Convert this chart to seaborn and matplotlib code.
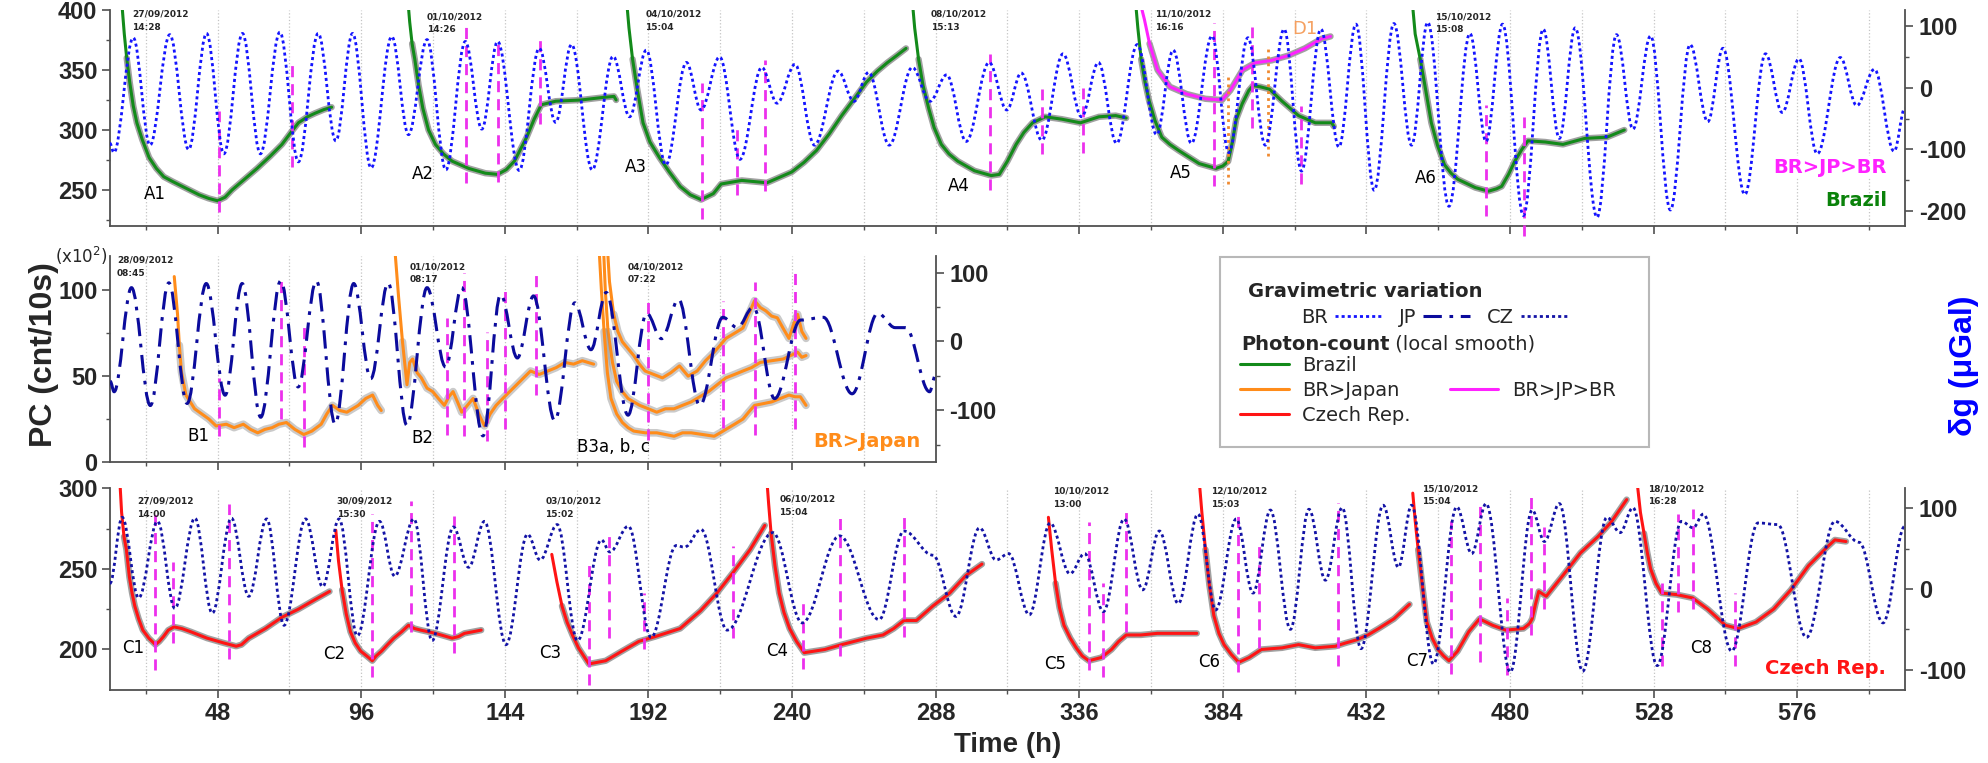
import matplotlib
matplotlib.use("Agg")
import matplotlib.pyplot as plt
from matplotlib.path import Path
from matplotlib.patches import PathPatch, Rectangle
from matplotlib.lines import Line2D
from matplotlib.text import Annotation
from matplotlib import font_manager
import seaborn as sns

# ---------------- gravimetric variation (dg, uGal), turning points
br_t = [12, 13.3, 19.8, 25.4, 32, 38.3, 44.3, 50.1, 56.3, 62.3, 68.8, 75, 81.6, 87.5,
        93.1, 99.3, 106.2, 111.8, 118, 124.3, 130.8, 136.3, 141.6, 148.8, 155.5, 161,
        166.3, 173.2, 180.2, 185.7, 191.3, 197.8, 204.7, 209.6, 215.8, 222.6, 229.9,
        235, 241, 247.5, 255.4, 260.7, 265.6, 272.5, 280.2, 286.1, 291.7, 298.2, 305.9,
        311.8, 316.6, 323.5, 330.6, 336.8, 342.4, 348.5, 355.4, 361.9, 367.4, 373.5,
        380.4, 386, 392.4, 398.2, 404.5, 410.3, 416.8, 422.8, 428.5, 434.6, 441.2, 447.1,
        452.5, 459.6, 466.6, 472, 477.5, 484.5, 491.1, 496.5, 501.8, 509.1, 515.6, 521.1,
        527, 533.6, 540.2, 546.1, 551.2, 558.5, 565.4, 571, 576.6, 582.7, 590.4, 595.9,
        601.8, 608.4, 612]
br_g = [-90, -105, 81, -93, 86, -100, 88, -107, 88, -107, 90, -120, 88, -86,
        88, -130, 83, -76, 78, -133, 75, -67, 75, -134, 64, -56,
        70, -133, 51, -47, 61, -125, 41, -36, 50, -116, 33,
        -25, 38, -93, 27, -22, 25, -93, 33, -22, 21, -87, 41,
        -36, 24, -85, 55, -47, 41, -90, 70, -76, 61, -90,
        84, -105, 81, -93, 95, -135, 95, -96, 103, -166, 104, -93,
        106, -192, 88, -87, 103, -207, 95, -82, 97, -210, 86, -67,
        84, -198, 70, -55, 64, -173, 55, -40, 47, -107, 49, -29,
        30, -103, -33]

jp_t = [12.1, 13.4, 19.2, 25.5, 31.7, 37.8, 44.2, 50.5, 56.2, 62.4, 69.1, 74.9, 81,
        87.3, 93.5, 99.2, 105, 111.3, 118, 124.2, 129.6, 136.7, 142.6, 148.2, 153.6,
        160.7, 167.4, 172.8, 177.9, 185.2, 191.4, 196.4, 202.1, 209.2, 216.9, 221.7,
        227.1, 234.2, 242.9, 250.5, 260.1, 268.7, 274.5, 278, 286, 288]
jp_g = [-58, -73, 78, -93, 85, -90, 84, -78, 84, -110, 88, -66, 88,
        -120, 84, -54, 85, -122, 78, -37, 78, -137, 68, -24, 66,
        -115, 56, -12, 71, -107, 41, 4, 61, -93, 35, 20,
        50, -83, 31, 35, -76, 41, 20, 20, -73, -49]

cz_t = [12, 16.1, 21.6, 27.9, 33.7, 40.4, 46.2, 52.6, 58.4, 64.4, 70.2, 77.4, 83.1,
        88.6, 94.7, 102.1, 107.2, 113.6, 119.7, 126.8, 131.9, 137.2, 144.4, 151.6,
        155.8, 161.5, 168.3, 176.3, 179.1, 185.3, 192.9, 201.3, 204.1, 209.6, 218.3,
        233.6, 243.4, 255.9, 269.1, 277.4, 287.1, 294.8, 302.7, 308.2, 312.4, 319.3,
        326.3, 332.9, 337.8, 344.1, 351, 357.2, 362.8, 369.1, 375.7, 381.6, 388.5,
        394.1, 399.9, 406.6, 412.8, 418.3, 423.9, 430.2, 437.6, 442.7, 447.1, 454.4,
        462.2, 467.2, 472, 480.1, 487.4, 491.5, 496.5, 504.3, 512.4, 516.8, 521.1,
        529.2, 537.3, 541.2, 544.6, 554.1, 562.9, 569.5, 579.1, 588.6, 596.7, 604.7, 612]
cz_g = [7, 89, -11, 84, -24, 88, -30, 88, -9, 87, -45, 87, 3,
        87, -58, 84, 16, 87, -64, 77, 27, 84, -69, 68,
        36, 80, -64, 61, 46, 78, -60, 54, 52, 74, -51,
        70, -42, 66, -38, 72, 42, -34, 76, 36, 44, -32,
        82, 19, 44, -28, 87, -1, 72, -18, 93, -26, 87,
        -5, 98, -50, 99, 11, 101, -74, 104, 27, 104, -93,
        102, 44, 106, -103, 98, 59, 106, -102, 89, 70, 101,
        -95, 84, 76, 93, -77, 82, 80, -60, 84, 58, -42, 78]

# ---------------- photon count, Brazil (cnt/10s)
a1_t = [16, 16.8, 17.6, 18.6, 19.8, 21, 22.8, 25.1, 27.5, 30, 33, 36.2, 41.8, 45, 48,
        50.5, 52.8, 57, 61.2, 65.5, 69.5, 72.5, 75, 78, 80.6, 83.5, 86.1]
a1_pc = [405, 380, 360, 340, 320, 306, 292, 277, 268, 261, 257, 253, 246, 243, 241,
         244, 250, 259, 268, 278, 288, 298, 306, 311, 314, 317, 319]
a2_t = [111.7, 112.2, 113, 113.9, 115.2, 116.6, 118.5, 120.8, 123.5, 126.4, 131.9, 137.5,
        141.6, 144.5, 147.2, 151.3, 153.8, 156.2, 161, 169.4, 176.3, 180.5, 181.2]
a2_pc = [405, 390, 372, 359, 337, 318, 300, 288, 280, 274, 268, 264,
         263, 267, 274, 294, 309, 321, 324, 325, 327, 328, 325]
a3_t = [184.8, 185.5, 186.7, 188.2, 190.2, 192.5, 195.7, 199, 202.6, 206, 209.6, 213.7,
        216.3, 223.2, 231.6, 239.9, 244, 248.2, 252.5, 256.6, 260.8, 264.9, 268.5,
        271.8, 275, 278.1]
a3_pc = [405, 385, 359, 335, 306, 290, 277, 265, 253, 246, 242, 247,
         255, 258, 256, 265, 273, 283, 297, 312, 326, 340, 349,
         356, 362, 368]
a4_t = [280.3, 281, 282.3, 283.8, 285.7, 287.5, 289.9, 292.5, 295.4, 301, 306.6, 309.3,
        312, 314.9, 317.5, 320.4, 324.6, 330.2, 336.4, 342.6, 348.2, 351.7]
a4_pc = [405, 385, 359, 337, 318, 302, 288, 280, 274, 266, 262, 263,
         274, 288, 298, 306, 311, 309, 306, 311, 312, 310]
a5_t = [354.9, 355.6, 356.7, 358, 359.4, 361.3, 363.6, 366.3, 369.2, 376.1, 381.7, 384,
        385.8, 387.2, 388.5, 390.5, 392.7, 394.1, 396.5, 399.6, 403.8, 409.3, 414.9,
        420.4, 421.1]
a5_pc = [405, 385, 359, 340, 324, 308, 294, 288, 283, 272, 268, 270,
         274, 290, 309, 322, 333, 337, 336, 334, 324, 312, 306,
         306, 303]
a6_t = [447.4, 448.3, 450, 451.7, 453.7, 455.8, 458.1, 460.3, 462.5, 468.4, 472.8, 475.5,
        477.2, 479.5, 481.6, 484, 486, 491.8, 497.7, 505, 512.4, 518.2]
a6_pc = [405, 380, 359, 335, 306, 287, 271, 264, 259, 252, 249, 251,
         253, 263, 274, 284, 291, 290, 288, 293, 294, 300]
d1_t = [357, 357.8, 359.5, 362.2, 366.3, 371.9, 378.2, 383.7, 386.5, 390.6, 394.8,
        400.3, 405.9, 411.4, 417, 420]
d1_pc = [400, 392, 372, 350, 336, 330, 326, 325, 333, 350, 356,
         358, 362, 368, 376, 378]

# ---------------- photon count, BR>Japan (x10^2 cnt/10s)
b1_t = [33.5, 34.6, 35.2, 35.9, 37.4, 40.3, 45.1, 47.5, 50.9, 53.5, 56.6, 59, 61.4,
        63.8, 66.2, 68.5, 71, 73.8, 76.8, 79.5, 82.6, 84.5, 86.4, 88.8, 91.2, 95,
        97.5, 99.8, 101.5, 102.7]
b1_pc = [108, 86, 68, 52.5, 39, 31, 25, 21, 22, 20, 22, 19, 17,
         19, 20, 22, 23, 19, 16, 18, 22, 28, 33, 30, 29, 33,
         37, 39, 33, 30]
b2_t = [107.2, 108.5, 109.8, 111.3, 112.2, 113.2, 114.7, 116.1, 118, 119.9, 121.8, 123.8,
        125.3, 126.7, 128.2, 129.6, 131.5, 133.4, 135.3, 137.2, 139.1, 141.1, 143.9,
        146.8, 149.7, 152.6, 155.5, 158.4, 161.2, 164.1, 167, 169.9, 171.8, 173.7]
b2_pc = [125, 96, 70, 45, 58, 60, 52, 49, 43, 41, 37, 33,
         38, 41, 35, 29, 33, 37, 28, 21, 28, 33, 38,
         43, 48, 53, 51, 53, 55, 58, 57, 59, 58, 57]
b3a_t = [178.3, 179, 180.4, 181.8, 183.3, 185.2, 187.1, 189, 190.9, 193.8, 196.7, 199.5,
         202.4, 205.3, 208.3, 211.1, 214, 216, 217.9, 220.8, 223.6, 225.5, 227.5, 229.4,
         231.3, 233.2, 235.1, 237, 239, 240.5, 241.9, 243.3, 244.7]
b3a_pc = [125, 105, 86, 76, 70, 66, 62, 57, 53, 51, 49, 52,
          56, 50, 53, 59, 64, 68, 72, 75, 78, 86, 94, 90,
          88, 85, 84, 78, 72, 80, 86, 76, 72]
b3b_t = [177, 177.6, 178.5, 180, 181.4, 183.3, 185.2, 187.1, 189.1, 192, 194.8, 197.7,
         200.6, 203.4, 206.3, 209.2, 212.1, 215, 217.9, 220.8, 223.6, 226.5, 229.4,
         233.2, 237.1, 239.5, 241.9, 243.3, 244.7]
b3b_pc = [125, 100, 76, 58, 47, 41, 37, 35, 33, 31, 29, 31,
          31, 33, 35, 38, 41, 45, 49, 51, 53, 55, 58,
          59, 60, 62, 64, 61, 62]
b3c_t = [175.5, 176.3, 177.2, 178.3, 179.5, 181.4, 183.3, 185.2, 187.1, 191, 194.8, 197.7,
         200.6, 203.4, 206.3, 210.2, 214, 216, 217.9, 220.8, 223.6, 225.5, 227.5, 230.4,
         233.2, 236.1, 239, 241, 242.8, 244.7]
b3c_pc = [125, 100, 76, 52, 37, 28, 23, 20, 18, 17, 17, 16,
          15, 17, 17, 16, 15, 17, 19, 22, 25, 29, 33, 34,
          35, 37, 39, 38, 38, 33]

# ---------------- photon count, Czech Rep. (cnt/10s)
c1_t = [15.3, 15.9, 16.7, 17.5, 18.5, 19.4, 20.3, 21.6, 23, 25, 27.2, 28.5, 29.9, 31.5,
        33.4, 36, 39, 44.5, 50.1, 54.2, 56, 58.4, 64, 69.5, 75, 80.6, 85.4]
c1_pc = [305, 285, 270, 262, 245, 235, 227, 219, 212, 207, 203, 205, 208, 212,
         214, 213, 211, 207, 204, 202, 203, 207, 213, 220, 225, 231, 236]
c2_t = [87.5, 88.4, 89.6, 91, 92.4, 94, 95.8, 97.8, 99.7, 101, 102.8, 104.8, 106.9,
        109.5, 111.8, 113.8, 115.9, 120.8, 126.4, 128.5, 130.5, 136.1]
c2_pc = [274, 255, 237, 222, 211, 204, 199, 196, 193, 196, 199, 203, 207,
         211, 215, 213, 212, 210, 207, 208, 210, 212]
c3_t = [159.7, 161.4, 163.1, 164.8, 166.6, 168.6, 170.7, 172.1, 174.9, 177.7, 183.2,
        188.8, 194.3, 202.6, 209.4, 214.9, 220.4, 226, 230.9]
c3_pc = [259, 242, 227, 217, 209, 201, 195, 191, 192, 193, 199,
         205, 208, 213, 224, 235, 248, 262, 277]
c4_t = [231.6, 232.2, 233, 234.3, 235.7, 237.3, 239.2, 241.5, 244.1, 251, 256.6, 264.9,
        270.4, 274, 277.4, 281.6, 287.1, 292.7, 298.2, 303.5]
c4_pc = [305, 290, 272, 252, 235, 223, 213, 205, 198, 200, 203, 207,
         209, 213, 218, 218, 227, 235, 246, 253]
c5_t = [325.7, 326.8, 328.1, 329.4, 330.9, 333, 335, 337, 339.2, 343.4, 346.8, 349.2,
        351.7, 356.6, 362.1, 369.1, 375.3]
c5_pc = [282, 262, 241, 226, 215, 207, 201, 196, 193, 195, 200, 205,
         209, 209, 210, 210, 210]
c6_t = [376.1, 377, 378.2, 379.5, 381, 382.7, 384.4, 386.8, 389.3, 392.8, 396.9, 403.8,
        409.3, 414.9, 421.6, 425, 428.8, 432.5, 436.1, 441.2, 446.4]
c6_pc = [305, 285, 262, 240, 221, 210, 203, 197, 192, 195, 200, 201,
         203, 201, 202, 204, 206, 209, 213, 219, 228]
c7_t = [447.5, 448.3, 449.3, 450.8, 452.2, 454, 455.9, 457.8, 459.6, 462.5, 466.2, 469.8,
        474.2, 478.6, 484.5, 486.5, 487.4, 488.5, 489.6, 492.1, 497.7, 503.6, 509.4,
        513.8, 519]
c7_pc = [297, 280, 262, 238, 217, 207, 200, 196, 193, 199, 211, 219,
         215, 212, 213, 216, 219, 228, 236, 233, 246, 260, 270,
         279, 293]
c8_t = [522.6, 523.6, 524.8, 525.9, 527, 528.8, 530.7, 535.8, 541, 546.1, 552, 556.3,
        562.2, 568.1, 573.9, 579.8, 585.7, 588.6, 592.3]
c8_pc = [302, 285, 272, 260, 250, 241, 235, 234, 232, 225, 215, 213,
         217, 225, 237, 252, 263, 268, 267]

# ---------------- vertical marker lines (time, low, high)
top_vl_t = [48.3, 73, 131, 141.6, 155.8, 209.9, 221.7, 230.9, 306.1, 323.5, 337.1,
            380.9, 393.6, 410.3, 472, 484.8]
top_vl_lo = [232, 269, 256, 257, 305, 226, 246, 249, 250, 280, 281, 253, 302, 255, 228, 212]
top_vl_hi = [316, 355, 389, 375, 378, 339, 302, 358, 363, 334, 335, 389, 386, 320, 321, 311]
top_ol_t = [385.7, 399.2]
top_ol_lo = [255, 278]
top_ol_hi = [346, 370]
mid_vl_t = [48.6, 69.1, 76.8, 124.8, 130.5, 138.2, 144, 154.5, 191.9, 216.9, 227.5, 240.9]
mid_vl_lo = [15, 25, 9, 16, 15, 12, 19, 39, 13, 20, 16, 19]
mid_vl_hi = [49, 107, 79, 84, 110, 76, 100, 110, 96, 94, 105, 113]
bot_vl_t = [27.2, 33.2, 51.7, 99.7, 112.5, 127.1, 172.1, 178.8, 190.6, 220.4, 243.8,
            256.1, 277.4, 339.2, 344.1, 351.7, 389.2, 396.1, 422.5, 460.3, 470.1,
            478.9, 487.1, 491.4, 530.7, 536.1, 541.2, 555.2]
bot_vl_lo = [187, 204, 194, 183, 211, 198, 178, 207, 200, 207, 188, 196, 208, 187, 183,
             211, 186, 201, 190, 185, 192, 184, 209, 225, 190, 223, 225, 190]
bot_vl_hi = [284, 254, 290, 284, 292, 283, 255, 272, 235, 264, 229, 282, 286, 279, 241,
             288, 286, 267, 291, 280, 292, 232, 295, 276, 241, 284, 287, 235]

# ---------------- annotations
top_dates_t = [19.3, 118, 190.9, 286.4, 361.4, 454.9]
top_dates = ["27/09/2012\n14:28", "01/10/2012\n14:26", "04/10/2012\n15:04",
             "08/10/2012\n15:13", "11/10/2012\n16:16", "15/10/2012\n15:08"]
top_dates_y = [1.0, 0.99, 1.0, 1.0, 1.0, 0.99]
mid_dates_t = [14.4, 112.3, 185.2]
mid_dates = ["28/09/2012\n08:45", "01/10/2012\n08:17", "04/10/2012\n07:22"]
mid_dates_y = [1.0, 0.97, 0.97]
bot_dates_t = [21.2, 87.8, 157.6, 235.7, 327.4, 380.2, 450.5, 526]
bot_dates = ["27/09/2012\n14:00", "30/09/2012\n15:30", "03/10/2012\n15:02",
             "06/10/2012\n15:04", "10/10/2012\n13:00", "12/10/2012\n15:03",
             "15/10/2012\n15:04", "18/10/2012\n16:28"]
bot_dates_y = [0.96, 0.96, 0.96, 0.97, 1.01, 1.01, 1.02, 1.02]

top_lab = ["A1", "A2", "A3", "A4", "A5", "A6"]
top_lab_t = [23.4, 112.8, 184, 292, 366.3, 448.3]
top_lab_pc = [247, 263, 269, 253, 264, 260]
mid_lab = ["B1", "B2", "B3a, b, c"]
mid_lab_t = [37.8, 112.7, 168]
mid_lab_pc = [15, 14, 9]
bot_lab = ["C1", "C2", "C3", "C4", "C5", "C6", "C7", "C8"]
bot_lab_t = [16.1, 83.4, 155.5, 231.3, 324.3, 375.7, 445.3, 540.2]
bot_lab_pc = [201, 197, 198, 199, 191, 192, 193, 201]

# ---------------- style
GREEN = "#138a1a"
ORANGE = "#ff8c1a"
RED = "#ff1414"
MAGENTA = "#ff22ff"
VL_MAG = "#ec30ec"
BR_C = "#1414ff"
JP_C = "#0b0b9c"
CZ_C = "#1313a6"
GRAY = "#8a8a8a"
BR_LS = (0, (1.1, 1.1))
JP_LS = (0, (6, 2.5, 1.2, 2.5))

sns.set_theme(style="white")
plt.rcParams["font.family"] = ["DejaVu Sans"]
names = {f.name for f in font_manager.fontManager.ttflist}
NARROW = "Liberation Sans Narrow" if "Liberation Sans Narrow" in names else "Liberation Sans"
TICKFONT = dict(fontsize=17, fontweight="bold", fontfamily=NARROW)


def tide_path(t, g, k=0.364):
    # smooth curve through the turning points (flat tangent at each point)
    verts = [(t[0], g[0])]
    codes = [Path.MOVETO]
    for i in range(len(t) - 1):
        dt = t[i + 1] - t[i]
        verts += [(t[i] + k * dt, g[i]), (t[i + 1] - k * dt, g[i + 1]), (t[i + 1], g[i + 1])]
        codes += [Path.CURVE4] * 3
    return Path(verts, codes)


def setup(ax, xmax, ylim, yt, ymin, glim, gt, gmin, show_x):
    ax.set_xlim(12, xmax)
    ax.set_ylim(*ylim)
    xt = list(range(48, int(xmax), 48))
    ax.set_xticks(xt, labels=[str(v) for v in xt] if show_x else [""] * len(xt), **TICKFONT)
    ax.set_xticks(list(range(24, int(xmax), 48)), minor=True)
    ax.set_yticks(yt, labels=[str(v) for v in yt], **TICKFONT)
    ax.set_yticks(ymin, minor=True)
    ax.grid(True, axis="x", which="both", ls=":", color="#c4c4c4", lw=0.9)
    ax.grid(False, axis="y")
    for s in ["top", "right"]:
        ax.spines[s].set_visible(False)
    for s in ["left", "bottom"]:
        ax.spines[s].set_color("#505050")
        ax.spines[s].set_linewidth(1.3)
    ax.tick_params(which="major", direction="out", length=6, width=1.2, color="#505050",
                   left=True, bottom=True, pad=3)
    ax.tick_params(which="minor", direction="out", length=3, width=1, color="#505050",
                   left=True, bottom=True)
    axr = ax.twinx()
    axr.set_ylim(*glim)
    axr.set_yticks(gt, labels=[str(v) for v in gt], **TICKFONT)
    axr.set_yticks(gmin, minor=True)
    axr.grid(False)
    for s in ["top", "left", "bottom"]:
        axr.spines[s].set_visible(False)
    axr.spines["right"].set_color("#505050")
    axr.spines["right"].set_linewidth(1.3)
    axr.tick_params(which="major", direction="out", length=6, width=1.2, color="#505050",
                    right=True, pad=4)
    axr.tick_params(which="minor", direction="out", length=3, width=1, color="#505050",
                    right=True)
    return axr


def pc_curve(ax, t, pc, color, gray_lw=4.6, gray_alpha=0.8, skip=2):
    sns.lineplot(x=t[skip:], y=pc[skip:], ax=ax, color=GRAY, lw=gray_lw, alpha=gray_alpha,
                 estimator=None, legend=False)
    sns.lineplot(x=t, y=pc, ax=ax, color=color, lw=2.2, estimator=None, legend=False)


fig = plt.figure(figsize=(19.88, 7.63), dpi=100)
ax_top = fig.add_axes([0.0553, 0.7038, 0.9029, 0.2831])
ax_mid = fig.add_axes([0.0553, 0.3945, 0.4153, 0.2700])
ax_bot = fig.add_axes([0.0553, 0.0960, 0.9029, 0.2640])

axr_top = setup(ax_top, 612, (220, 400), [250, 300, 350, 400], [225, 275, 325, 375],
                (-224, 126), [-200, -100, 0, 100], [-150, -50, 50], False)
axr_mid = setup(ax_mid, 288, (0, 120), [0, 50, 100], [25, 75],
                (-175, 124), [-100, 0, 100], [-150, -50, 50], False)
axr_bot = setup(ax_bot, 612, (175, 300), [200, 250, 300], [225, 275],
                (-125, 125), [-100, 0, 100], [-50, 50], True)

# tides
axr_top.add_patch(PathPatch(tide_path(br_t, br_g), fill=False, edgecolor=BR_C, lw=2.0,
                            linestyle=BR_LS))
axr_mid.add_patch(PathPatch(tide_path(jp_t, jp_g), fill=False, edgecolor=JP_C, lw=2.2,
                            linestyle=JP_LS))
axr_bot.add_patch(PathPatch(tide_path(cz_t, cz_g), fill=False, edgecolor=CZ_C, lw=2.0,
                            linestyle=BR_LS))

# photon counts
for t, pc in [(a1_t, a1_pc), (a2_t, a2_pc), (a3_t, a3_pc), (a4_t, a4_pc),
              (a5_t, a5_pc), (a6_t, a6_pc)]:
    pc_curve(ax_top, t, pc, GREEN)
pc_curve(ax_top, d1_t, d1_pc, MAGENTA)
for t, pc in [(b1_t, b1_pc), (b2_t, b2_pc), (b3a_t, b3a_pc), (b3b_t, b3b_pc), (b3c_t, b3c_pc)]:
    pc_curve(ax_mid, t, pc, ORANGE, gray_lw=5.5, gray_alpha=0.45)
for t, pc in [(c1_t, c1_pc), (c2_t, c2_pc), (c3_t, c3_pc), (c4_t, c4_pc),
              (c5_t, c5_pc), (c6_t, c6_pc), (c7_t, c7_pc), (c8_t, c8_pc)]:
    pc_curve(ax_bot, t, pc, RED)

# vertical markers
ax_top.vlines(top_vl_t, top_vl_lo, top_vl_hi, colors=VL_MAG, linestyles=(0, (4, 2.5)),
              lw=2.0, clip_on=False, zorder=3)
ax_top.vlines(top_ol_t, top_ol_lo, top_ol_hi, colors="#f08a30", linestyles=(0, (1, 1.5)),
              lw=2.0, zorder=3)
ax_mid.vlines(mid_vl_t, mid_vl_lo, mid_vl_hi, colors=VL_MAG, linestyles=(0, (4, 2.5)),
              lw=2.0, zorder=3)
ax_bot.vlines(bot_vl_t, bot_vl_lo, bot_vl_hi, colors=VL_MAG, linestyles=(0, (4, 2.5)),
              lw=2.0, zorder=3)

# date stamps
for ax, ts, ss, ys in [(ax_top, top_dates_t, top_dates, top_dates_y),
                       (ax_mid, mid_dates_t, mid_dates, mid_dates_y),
                       (ax_bot, bot_dates_t, bot_dates, bot_dates_y)]:
    for t, s, y in zip(ts, ss, ys):
        ax.text(t, y, s, transform=ax.get_xaxis_transform(), fontsize=6.5,
                fontweight="bold", va="top", ha="left", linespacing=1.6)

# run labels
for ax, labs, ts, ps in [(ax_top, top_lab, top_lab_t, top_lab_pc),
                         (ax_mid, mid_lab, mid_lab_t, mid_lab_pc),
                         (ax_bot, bot_lab, bot_lab_t, bot_lab_pc)]:
    for s, t, p in zip(labs, ts, ps):
        ax.text(t, p, s, fontsize=12, va="center", ha="left", color="black")
ax_top.text(407.3, 384, "D1", fontsize=13, color="#f5a060", va="center", ha="left")

# panel names
axr_top.text(606, 269, "BR>JP>BR", transform=ax_top.transData, color=MAGENTA, fontsize=14,
             fontweight="bold", ha="right", va="center",
             bbox=dict(facecolor="white", edgecolor="none", pad=1))
axr_top.text(606, 241, "Brazil", transform=ax_top.transData, color="#0a820a", fontsize=14,
             fontweight="bold", ha="right", va="center")
axr_mid.text(283, 12, "BR>Japan", transform=ax_mid.transData, color=ORANGE, fontsize=14,
             fontweight="bold", ha="right", va="center")
axr_bot.text(605.5, 188, "Czech Rep.", transform=ax_bot.transData, color=RED, fontsize=14,
             fontweight="bold", ha="right", va="center")
ax_mid.text(-0.003, 1.0, r"(x10$^2$)", transform=ax_mid.transAxes, fontsize=12,
            ha="right", va="center")

# axis titles
ax_bot.set_xlabel("Time (h)", fontsize=20, fontweight="bold", fontfamily=NARROW, labelpad=5)
fig.text(0.022, 0.535, "PC (cnt/10s)", rotation=90, ha="center", va="center",
         fontsize=23, fontweight="bold", fontfamily="Liberation Sans")
fig.text(0.988, 0.52, "\u03b4g (\u03bcGal)", rotation=90, ha="center", va="center",
         fontsize=23, fontweight="bold", fontfamily="Liberation Sans", color="#0000ff")

# legend block
fig.add_artist(Rectangle((0.6137, 0.4142), 0.2158, 0.249, transform=fig.transFigure,
                         fill=False, edgecolor="#b8b8b8", lw=1.5))
fig.text(0.628, 0.6186, "Gravimetric variation", fontsize=14, fontweight="bold", va="center")
grav_h = [Line2D([], [], color=BR_C, lw=2.0, ls=BR_LS),
          Line2D([], [], color=JP_C, lw=2.2, ls=JP_LS),
          Line2D([], [], color=CZ_C, lw=2.0, ls=BR_LS)]
fig.legend(grav_h, ["BR", "JP", "CZ"], ncol=3, markerfirst=False, frameon=False,
           loc="center left", bbox_to_anchor=(0.6545, 0.5845), fontsize=14,
           handlelength=2.4, handletextpad=0.35, columnspacing=0.9,
           borderpad=0, borderaxespad=0)
ph = fig.text(0.6242, 0.549, "Photon-count", fontsize=14, fontweight="bold", va="center")
fig.add_artist(Annotation(" (local smooth)", xy=(1, 0.5), xycoords=ph, fontsize=14,
                          va="center", ha="left"))
blank = Line2D([], [], color="none")
pc_h = [Line2D([], [], color=GREEN, lw=2.2), Line2D([], [], color=ORANGE, lw=2.2),
        Line2D([], [], color=RED, lw=2.2), blank,
        Line2D([], [], color=MAGENTA, lw=2.2), blank]
fig.legend(pc_h, ["Brazil", "BR>Japan", "Czech Rep.", "", "BR>JP>BR", ""], ncol=2,
           frameon=False, loc="upper left", bbox_to_anchor=(0.6237, 0.5335), fontsize=14,
           handlelength=2.5, handletextpad=0.7, columnspacing=2.0, labelspacing=0.3,
           borderpad=0, borderaxespad=0)

fig.savefig("out.png", dpi=100)
